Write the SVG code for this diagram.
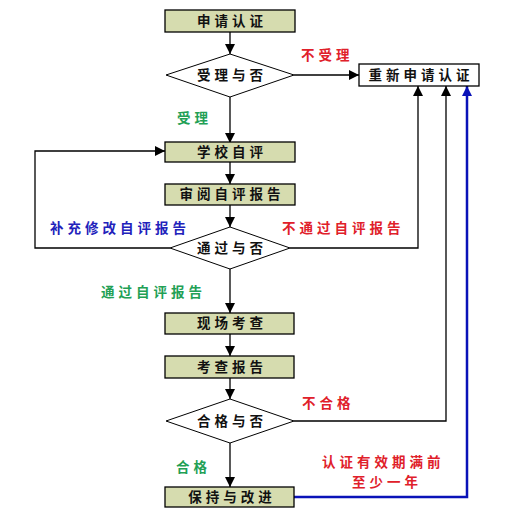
<svg xmlns="http://www.w3.org/2000/svg" width="510" height="525" viewBox="0 0 510 525">
<style>
.box{fill:#d6dcaf;stroke:#000;stroke-width:1.3}
.wbox{fill:#fff;stroke:#000;stroke-width:1.3}
.dia{fill:#fff;stroke:#000;stroke-width:1}
.t{font-family:"Noto Sans CJK SC","Noto Sans CJK JP",sans-serif;font-size:13.5px;font-weight:bold;text-anchor:middle;letter-spacing:4px;fill:#111}
.l{font-family:"Noto Sans CJK SC","Noto Sans CJK JP",sans-serif;font-size:13.5px;font-weight:bold;letter-spacing:4px}
.red{fill:#e0202a}.grn{fill:#22a055}.blu{fill:#2222bb}
.ln{fill:none;stroke:#000;stroke-width:1.3}
.bl{fill:none;stroke:#0a12b8;stroke-width:2.5}
</style>
<defs>
<marker id="ah" viewBox="0 0 10 10" refX="10" refY="5" markerWidth="10" markerHeight="10" markerUnits="userSpaceOnUse" orient="auto"><path d="M0,0 L10,5 L0,10 z" fill="#000"/></marker>
<marker id="ahb" viewBox="0 0 10 10" refX="10" refY="5" markerWidth="12" markerHeight="10" markerUnits="userSpaceOnUse" orient="auto"><path d="M0,0 L10,5 L0,10 z" fill="#0a12b8"/></marker>
</defs>
<g id="connectors">
<path class="ln" d="M230,32 V54" marker-end="url(#ah)"/>
<path class="ln" d="M230,97 V143" marker-end="url(#ah)"/>
<path class="ln" d="M230,162 V184" marker-end="url(#ah)"/>
<path class="ln" d="M230,205 V227" marker-end="url(#ah)"/>
<path class="ln" d="M230,268 V313" marker-end="url(#ah)"/>
<path class="ln" d="M230,334 V356" marker-end="url(#ah)"/>
<path class="ln" d="M230,378 V399" marker-end="url(#ah)"/>
<path class="ln" d="M230,443 V487" marker-end="url(#ah)"/>
<path class="ln" d="M294,75 H359" marker-end="url(#ah)"/>
<path class="ln" d="M170,248 H35 V151 H165" marker-end="url(#ah)"/>
<path class="ln" d="M290,248 H418 V86" marker-end="url(#ah)"/>
<path class="ln" d="M294,421 H446 V86" marker-end="url(#ah)"/>
<path class="bl" d="M294,497 H467 V86" marker-end="url(#ahb)"/>
</g>
<g id="n1"><rect class="box" x="165" y="10" width="130" height="22"/><text class="t" x="232" y="26">申请认证</text></g>
<g id="n2"><polygon class="dia" points="230,54 294,75 230,97 166,75"/><text class="t" x="232" y="80">受理与否</text></g>
<g id="n3"><rect class="wbox" x="359" y="64" width="120" height="22"/><text class="t" x="421" y="80">重新申请认证</text></g>
<g id="n4"><rect class="box" x="165" y="142" width="130" height="20"/><text class="t" x="232" y="157">学校自评</text></g>
<g id="n5"><rect class="box" x="165" y="184" width="130" height="21"/><text class="t" x="232" y="199">审阅自评报告</text></g>
<g id="n6"><polygon class="dia" points="230,227 290,248 230,269 170,248"/><text class="t" x="232" y="253">通过与否</text></g>
<g id="n7"><rect class="box" x="165" y="313" width="129" height="21"/><text class="t" x="232" y="328">现场考查</text></g>
<g id="n8"><rect class="box" x="165" y="356" width="129" height="22"/><text class="t" x="232" y="372">考查报告</text></g>
<g id="n9"><polygon class="dia" points="230,399 294,421 230,443 166,421"/><text class="t" x="232" y="426">合格与否</text></g>
<g id="n10"><rect class="box" x="165" y="487" width="129" height="20"/><text class="t" x="232" y="502">保持与改进</text></g>
<g id="labels">
<text class="l red" x="301" y="60">不受理</text>
<text class="l grn" x="177" y="123">受理</text>
<text class="l blu" x="50" y="233">补充修改自评报告</text>
<text class="l red" x="282" y="233">不通过自评报告</text>
<text class="l grn" x="101" y="297">通过自评报告</text>
<text class="l red" x="302" y="408">不合格</text>
<text class="l grn" x="176" y="472">合格</text>
<text class="l red" x="322" y="467">认证有效期满前</text>
<text class="l red" x="352" y="487">至少一年</text>
</g>
</svg>
